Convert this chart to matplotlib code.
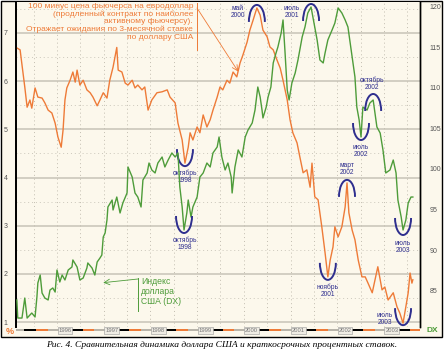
import numpy as np
import matplotlib.pyplot as plt
from matplotlib.patches import Arc, Rectangle

plt.rcParams['font.family'] = ['Liberation Sans', 'DejaVu Sans']

# 100 minus eurodollar futures price (%), left axis
rate_dates = [1995.14, 1995.21, 1995.25, 1995.31, 1995.36, 1995.42, 1995.46, 1995.53, 1995.59, 1995.68,
              1995.74, 1995.81, 1995.89, 1995.96, 1996.02, 1996.09, 1996.13, 1996.17, 1996.21, 1996.28,
              1996.34, 1996.39, 1996.43, 1996.49, 1996.56, 1996.64, 1996.71, 1996.77, 1996.86, 1996.92,
              1996.99, 1997.07, 1997.13, 1997.20, 1997.28, 1997.31, 1997.39, 1997.46, 1997.52, 1997.61,
              1997.67, 1997.73, 1997.82, 1997.88, 1997.95, 1998.03, 1998.14, 1998.25, 1998.36, 1998.42,
              1998.53, 1998.59, 1998.68, 1998.74, 1998.81, 1998.85, 1998.91, 1999.00, 1999.06, 1999.13,
              1999.21, 1999.28, 1999.34, 1999.43, 1999.49, 1999.55, 1999.64, 1999.70, 1999.77, 1999.85,
              1999.92, 1999.98, 2000.07, 2000.13, 2000.20, 2000.28, 2000.35, 2000.41, 2000.50, 2000.56,
              2000.63, 2000.71, 2000.78, 2000.84, 2000.93, 2000.99, 2001.05, 2001.14, 2001.20, 2001.27,
              2001.35, 2001.42, 2001.46, 2001.52, 2001.59, 2001.67, 2001.74, 2001.80, 2001.85, 2001.91,
              2001.95, 2002.02, 2002.10, 2002.17, 2002.21, 2002.25, 2002.32, 2002.38, 2002.45, 2002.53,
              2002.60, 2002.66, 2002.75, 2002.81, 2002.87, 2002.96, 2003.02, 2003.09, 2003.20, 2003.28,
              2003.34, 2003.41, 2003.47, 2003.52, 2003.56, 2003.60, 2003.62]
rate_values = [6.69, 6.65, 6.34, 5.88, 5.46, 5.61, 5.44, 5.86, 5.67, 5.65,
               5.55, 5.40, 5.34, 5.13, 4.84, 4.63, 4.99, 5.61, 5.86, 6.02,
               6.19, 5.98, 6.23, 5.92, 6.02, 5.82, 5.76, 5.67, 5.49, 5.61,
               5.76, 5.65, 6.02, 6.29, 6.70, 6.23, 6.19, 5.96, 5.92, 6.02,
               5.86, 5.92, 5.82, 5.88, 5.40, 5.61, 5.76, 5.78, 5.82, 5.67,
               5.55, 5.13, 4.78, 4.30, 4.63, 4.93, 4.78, 5.05, 4.93, 5.30,
               5.05, 5.20, 5.40, 5.67, 5.88, 5.82, 6.02, 5.96, 6.19, 6.09,
               6.38, 6.54, 6.81, 7.06, 7.27, 7.52, 7.37, 7.06, 6.92, 6.71,
               6.65, 6.44, 6.27, 6.02, 5.61, 5.20, 4.93, 4.72, 4.43, 4.10,
               4.16, 3.80, 4.30, 3.60, 3.54, 2.98, 2.44, 1.94, 2.29, 2.56,
               2.98, 2.77, 2.98, 3.39, 3.89, 3.27, 2.91, 2.71, 2.29, 1.94,
               1.94, 1.81, 1.61, 1.88, 2.15, 1.67, 1.73, 1.46, 1.61, 1.32,
               1.19, 0.98, 1.32, 1.61, 2.02, 1.81, 1.88]

# US dollar index (DX), right axis
dx_dates = [1995.14, 1995.16, 1995.25, 1995.31, 1995.36, 1995.46, 1995.53, 1995.57, 1995.59, 1995.64,
            1995.68, 1995.74, 1995.81, 1995.85, 1995.91, 1995.96, 1996.00, 1996.06, 1996.11, 1996.17,
            1996.24, 1996.32, 1996.34, 1996.43, 1996.49, 1996.56, 1996.64, 1996.66, 1996.75, 1996.81,
            1996.86, 1996.92, 1996.96, 1996.99, 1997.03, 1997.07, 1997.09, 1997.18, 1997.20, 1997.28,
            1997.35, 1997.41, 1997.50, 1997.52, 1997.61, 1997.67, 1997.73, 1997.80, 1997.84, 1997.93,
            1997.97, 1998.03, 1998.10, 1998.16, 1998.25, 1998.31, 1998.38, 1998.46, 1998.53, 1998.59,
            1998.63, 1998.68, 1998.72, 1998.78, 1998.81, 1998.87, 1998.91, 1999.00, 1999.06, 1999.13,
            1999.21, 1999.28, 1999.34, 1999.43, 1999.47, 1999.53, 1999.60, 1999.66, 1999.73, 1999.75,
            1999.81, 1999.88, 1999.96, 2000.03, 2000.09, 2000.18, 2000.24, 2000.30, 2000.35, 2000.39,
            2000.41, 2000.48, 2000.52, 2000.58, 2000.63, 2000.69, 2000.73, 2000.80, 2000.84, 2000.88,
            2000.93, 2000.97, 2001.03, 2001.10, 2001.16, 2001.25, 2001.31, 2001.37, 2001.44, 2001.48,
            2001.57, 2001.63, 2001.70, 2001.74, 2001.80, 2001.89, 2001.95, 2002.02, 2002.10, 2002.17,
            2002.23, 2002.32, 2002.38, 2002.42, 2002.47, 2002.51, 2002.55, 2002.64, 2002.70, 2002.77,
            2002.85, 2002.92, 2002.98, 2003.04, 2003.13, 2003.20, 2003.26, 2003.30, 2003.37, 2003.41,
            2003.47, 2003.52, 2003.58, 2003.62]
dx_values = [83.83, 81.60, 81.60, 84.07, 81.60, 82.22, 81.73, 84.20, 85.93, 86.91,
             84.69, 84.07, 83.83, 85.06, 85.31, 84.81, 87.53, 86.05, 86.91, 86.30,
             87.53, 87.90, 88.77, 87.90, 86.30, 86.54, 87.78, 88.40, 87.78, 86.91,
             88.52, 89.01, 89.38, 91.60, 92.10, 93.70, 95.31, 96.17, 94.94, 96.54,
             94.57, 95.80, 97.04, 100.25, 99.01, 97.04, 96.54, 95.31, 98.64, 99.51,
             100.74, 99.88, 99.51, 100.74, 101.48, 100.25, 101.11, 101.98, 101.48, 101.98,
             97.78, 95.31, 92.47, 94.57, 96.17, 94.07, 95.31, 96.54, 99.01, 99.51,
             100.74, 100.25, 101.98, 102.72, 103.95, 101.48, 99.88, 100.74, 99.01, 97.04,
             100.25, 102.35, 101.48, 103.95, 104.81, 105.68, 107.28, 110.12, 108.89, 107.28,
             106.30, 107.65, 108.89, 110.12, 113.09, 114.32, 115.06, 116.79, 118.40, 114.69,
             109.75, 108.52, 110.62, 111.85, 113.46, 116.30, 117.53, 119.26, 120.00, 118.77,
             115.93, 113.46, 113.09, 114.32, 115.93, 117.16, 118.02, 119.88, 119.26, 118.40,
             117.53, 113.83, 111.36, 107.65, 106.05, 103.95, 107.65, 107.28, 108.15, 108.52,
             105.19, 104.44, 102.35, 99.51, 99.88, 101.11, 99.51, 96.17, 94.07, 92.47,
             93.70, 95.80, 96.54, 96.54]

rate_ticks = [1, 2, 3, 4, 5, 6, 7]
dx_ticks = [85, 90, 95, 100, 105, 110, 115, 120]
years = [1996, 1997, 1998, 1999, 2000, 2001, 2002, 2003]

# (label, date, series, kind, text offset px, gap px)
marks = [
    ('октябрь\n1998', 1998.74, 'rate', 'min', (0, -14), 3),
    ('май\n2000', 2000.28, 'rate', 'max', (-19, -4), 3),
    ('ноябрь\n2001', 2001.80, 'rate', 'min', (0, -14), 3),
    ('март\n2002', 2002.21, 'rate', 'max', (0, 14), 3),
    ('июль\n2003', 2003.41, 'rate', 'min', (-18, 4), 2),
    ('октябрь\n1998', 1998.72, 'dx', 'min', (1, -14), 3),
    ('июль\n2001', 2001.44, 'dx', 'max', (-19, -5), 3),
    ('июль\n2002', 2002.51, 'dx', 'min', (0, -14), 3),
    ('октябрь\n2002', 2002.77, 'dx', 'max', (-1, 16), 6),
    ('июль\n2003', 2003.41, 'dx', 'min', (0, -17), 5),
]

cream = '#fcf8ec'
orange = '#ee7b38'
green = '#4e9c3a'
navy = '#2e2e8e'
grid = '#cbc7bb'

W, H = 444, 352
fig = plt.figure(figsize=(W / 100, H / 100), dpi=100)
fig.patch.set_facecolor('white')
frame = Rectangle((1 / W, 1 - 337 / H), 441 / W, 336 / H, transform=fig.transFigure,
                  facecolor=cream, edgecolor='black', lw=1.0, zorder=-10)
fig.add_artist(frame)

ax = fig.add_axes([16 / W, 1 - 327 / H, 404 / W, 325 / H])
ax.set_facecolor(cream)
ax.set_xlim(1995.122, 2003.773)
ax.set_ylim(0.90, 7.643)
ax2 = ax.twinx()
ax2.set_ylim(80.494, 120.617)

# grid
for v in rate_ticks:
    ax.axhline(v, color=grid, lw=1.2, zorder=1)
for v in np.arange(1.5, 7.6, 1.0):
    ax.axhline(v, color=grid, lw=0.7, ls=(0, (1, 3)), zorder=1)
for t in np.arange(1995.5, 2003.8, 0.5):
    ax.axvline(t, color='#c2bdb0', lw=0.7, ls=(0, (1, 3)), zorder=1)

ax.plot(rate_dates, rate_values, color=orange, lw=1.0, zorder=3)
ax2.plot(dx_dates, dx_values, color=green, lw=1.0, zorder=3)

ax.set_yticks(rate_ticks)
ax.set_xticks([])
ax2.set_yticks(dx_ticks)
ax.tick_params(axis='y', length=0, pad=6, labelsize=5, labelcolor='#555555')
ax2.tick_params(axis='y', length=0, pad=7, labelsize=5, labelcolor='#555555')
for a in (ax, ax2):
    a.spines['top'].set_visible(False)
    a.spines['bottom'].set_visible(False)
    a.spines['left'].set_linewidth(1.3)
    a.spines['right'].set_linewidth(1.0)


def px_scale(a):
    x0, x1 = a.get_xlim()
    y0, y1 = a.get_ylim()
    bb = a.get_window_extent()
    return (x1 - x0) / bb.width, (y1 - y0) / bb.height


series = {'rate': (ax, np.array(rate_dates), np.array(rate_values)),
          'dx': (ax2, np.array(dx_dates), np.array(dx_values))}

for label, date, key, kind, (ox, oy), gap in marks:
    a, d, v = series[key]
    i = np.argmin(np.abs(d - date))
    t, val = d[i], v[i]
    sx, sy = px_scale(a)
    hw, hh = 16, 17
    if kind == 'min':
        cy = val - gap * sy + hh * sy
        arc = Arc((t, cy), hw * sx, 2 * hh * sy, theta1=180, theta2=360, color=navy, lw=1.4, zorder=5)
    else:
        cy = val + gap * sy - hh * sy
        arc = Arc((t, cy), hw * sx, 2 * hh * sy, theta1=0, theta2=180, color=navy, lw=1.4, zorder=5)
    a.add_patch(arc)
    a.annotate(label, (t, val), xytext=(ox, oy), textcoords='offset pixels', ha='center', va='center',
               fontsize=4.8, color=navy, linespacing=1.0, zorder=6)


def fx(px):
    return (px - 16) / 404


def fy(py):
    return 1 - (py - 2) / 325


# orange legend text with pointer
ax.text(fx(193), fy(3), '100 минус цена фьючерса на евродоллар\n(продленный контракт по наиболее\n'
        'активному фьючерсу).\nОтражает ожидания по 3-месячной ставке\nпо доллару США',
        transform=ax.transAxes, ha='right', va='top', fontsize=6.0, color=orange, linespacing=1.08)
ax.plot([fx(197), fx(197)], [fy(3), fy(50)], transform=ax.transAxes, color=orange, lw=0.7)
ax.annotate('', xy=(1999.88, 6.2), xytext=(fx(197), fy(8)), textcoords='axes fraction',
            arrowprops=dict(arrowstyle='->', color=orange, lw=0.6, shrinkA=0, shrinkB=0))

# green legend text with pointer
ax.text(fx(141), fy(277), 'Индекс\nдоллара\nСША (DX)', transform=ax.transAxes, ha='left', va='top',
        fontsize=6.2, color=green, linespacing=1.15)
ax.plot([fx(138), fx(138)], [fy(278), fy(311)], transform=ax.transAxes, color=green, lw=0.7)
ax.annotate('', xy=(1996.99, 1.82), xytext=(fx(138), fy(279)), textcoords='axes fraction',
            arrowprops=dict(arrowstyle='->', color=green, lw=0.6, shrinkA=0, shrinkB=0))

# time strip under the axes
strip = fig.add_axes([16 / W, 1 - 333 / H, 404 / W, 5 / H])
strip.set_xlim(ax.get_xlim())
strip.set_ylim(0, 1)
strip.axis('off')
strip.axvspan(1995.122, 2003.773, ymin=0.35, ymax=0.75, color='#b8b4aa', lw=0)
for y in [1995] + years:
    strip.axvspan(y + 0.30, y + 0.55, ymin=0.35, ymax=0.75, color='black', lw=0)
    strip.axvspan(y + 0.55, y + 0.80, ymin=0.35, ymax=0.75, color=orange, lw=0)
strip.set_xlim(ax.get_xlim())
for y in years:
    strip.text(y + 0.03, 0.5, str(y), ha='left', va='center', fontsize=4.2, color='#777777',
               bbox=dict(boxstyle='square,pad=0.15', fc='#efece4', ec='#999999', lw=0.4))

fig.text(10 / W, 1 - 332 / H, '%', color=orange, fontsize=6.5, fontweight='bold', ha='center', va='center')
fig.text(432 / W, 1 - 331 / H, 'DX', color=green, fontsize=6, fontweight='bold', ha='center', va='center')

fig.text(0.5, 1 - 345 / H, 'Рис. 4. Сравнительная динамика доллара США и краткосрочных процентных ставок.',
         ha='center', va='center', fontsize=6.8, style='italic', family=['Liberation Serif', 'DejaVu Serif'])

fig.savefig('out.png', dpi=100, facecolor=fig.get_facecolor())
